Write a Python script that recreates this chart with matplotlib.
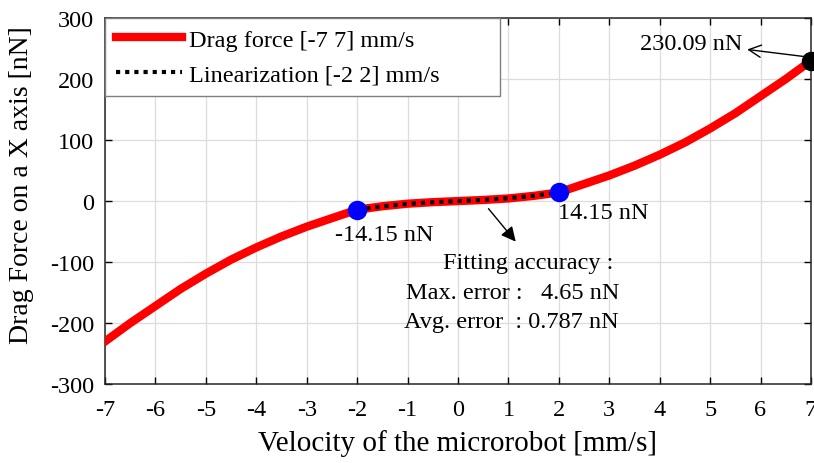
import matplotlib.pyplot as plt
import numpy as np

plt.rcParams["font.family"] = ["Liberation Serif", "DejaVu Serif"]
plt.rcParams["axes.unicode_minus"] = False

# Datos
# ---------------------------------------------------------------------------
velocidad = [-7, -6.5, -6, -5.5, -5, -4.5, -4, -3.5, -3, -2.5, -2, -1.5, -1, -0.5,
             0, 0.5, 1, 1.5, 2, 2.5, 3, 3.5, 4, 4.5, 5, 5.5, 6, 6.5, 7]
fuerza = [-230.09, -200, -172, -144, -119, -96, -76, -58, -42, -28, -14.15, -8.5,
          -4.3, -1.8, 0, 1.8, 4.3, 8.5, 14.15, 28, 42, 58, 76, 96, 119, 144, 172,
          200, 230.09]

vel_lineal = [-2, -1.5, -1, -0.5, 0, 0.5, 1, 1.5, 2]
fuerza_lineal = [-14.15, -8.8, -4.6, -1.9, 0, 1.9, 4.6, 8.8, 14.15]

puntos_azules_x = [-2, 2]
puntos_azules_y = [-14.15, 14.15]
punto_max_x = 7
punto_max_y = 230.09

xticks = np.arange(-7, 8, 1)
yticks = np.arange(-300, 301, 100)

# Grafico
# ---------------------------------------------------------------------------
fig = plt.figure(figsize=(8.14, 4.64), dpi=100)
ax = fig.add_axes([0.129, 0.170, 0.8673, 0.789])

ax.plot(velocidad, fuerza, color="red", linewidth=6,
        label="Drag force [-7 7] mm/s", zorder=3)
ax.plot(vel_lineal, fuerza_lineal, color="black", linewidth=3,
        linestyle=(0, (1, 1.2)), label="Linearization [-2 2] mm/s", zorder=4)
ax.plot(puntos_azules_x, puntos_azules_y, "o", color="blue", markersize=13, zorder=5)
ax.plot([punto_max_x], [punto_max_y], "o", color="black", markersize=13,
        zorder=5, clip_on=False)

ax.set_xlim(-7, 7)
ax.set_ylim(-300, 300)
ax.set_xticks(xticks)
ax.set_yticks(yticks)
ax.tick_params(direction="in", top=True, right=True, length=5, width=1,
               labelsize=17.5)
ax.tick_params(axis="x", pad=11)
ax.tick_params(axis="y", pad=8)
ax.grid(True, color="#dcdcdc", linewidth=0.9)
ax.set_axisbelow(True)
for s in ax.spines.values():
    s.set_linewidth(1.1)
    s.set_color("#262626")

ax.set_xlabel("Velocity of the microrobot [mm/s]", fontsize=21, labelpad=6)
ax.set_ylabel("Drag Force on a X axis [nN]", fontsize=20)
ax.yaxis.set_label_coords(-0.1, 0.546)

# anotaciones
ax.annotate("230.09 nN", xy=(5.68, 249), xytext=(5.63, 258), ha="right",
            va="center", fontsize=17.5)
ax.annotate("", xy=(5.68, 249), xytext=(6.95, 236),
            arrowprops=dict(arrowstyle="->", color="black", lw=1,
                            mutation_scale=22))
ax.text(1.98, -19, "14.15 nN", fontsize=17.5, ha="left", va="center")
ax.text(-2.44, -55, "-14.15 nN", fontsize=17.5, ha="left", va="center")
ax.annotate("", xy=(1.18, -70), xytext=(0.57, -9),
            arrowprops=dict(arrowstyle="-|>", color="black", lw=1,
                            mutation_scale=22))
ax.text(1.39, -101, "Fitting accuracy :", fontsize=17.5, ha="center", va="center")
ax.text(1.08, -150, "Max. error :   4.65 nN", fontsize=17.5, ha="center", va="center")
ax.text(1.05, -198, "Avg. error  : 0.787 nN", fontsize=17.5, ha="center", va="center")

leg = ax.legend(loc="upper left", bbox_to_anchor=(0, 1, 0.559, 0), mode="expand",
                fontsize=17.5, handlelength=2.7, fancybox=False, framealpha=1,
                edgecolor="#7f7f7f", borderaxespad=0, borderpad=0.45,
                labelspacing=0.5, handletextpad=0.3)
leg.get_frame().set_linewidth(1)

fig.savefig("out.png", dpi=100)
